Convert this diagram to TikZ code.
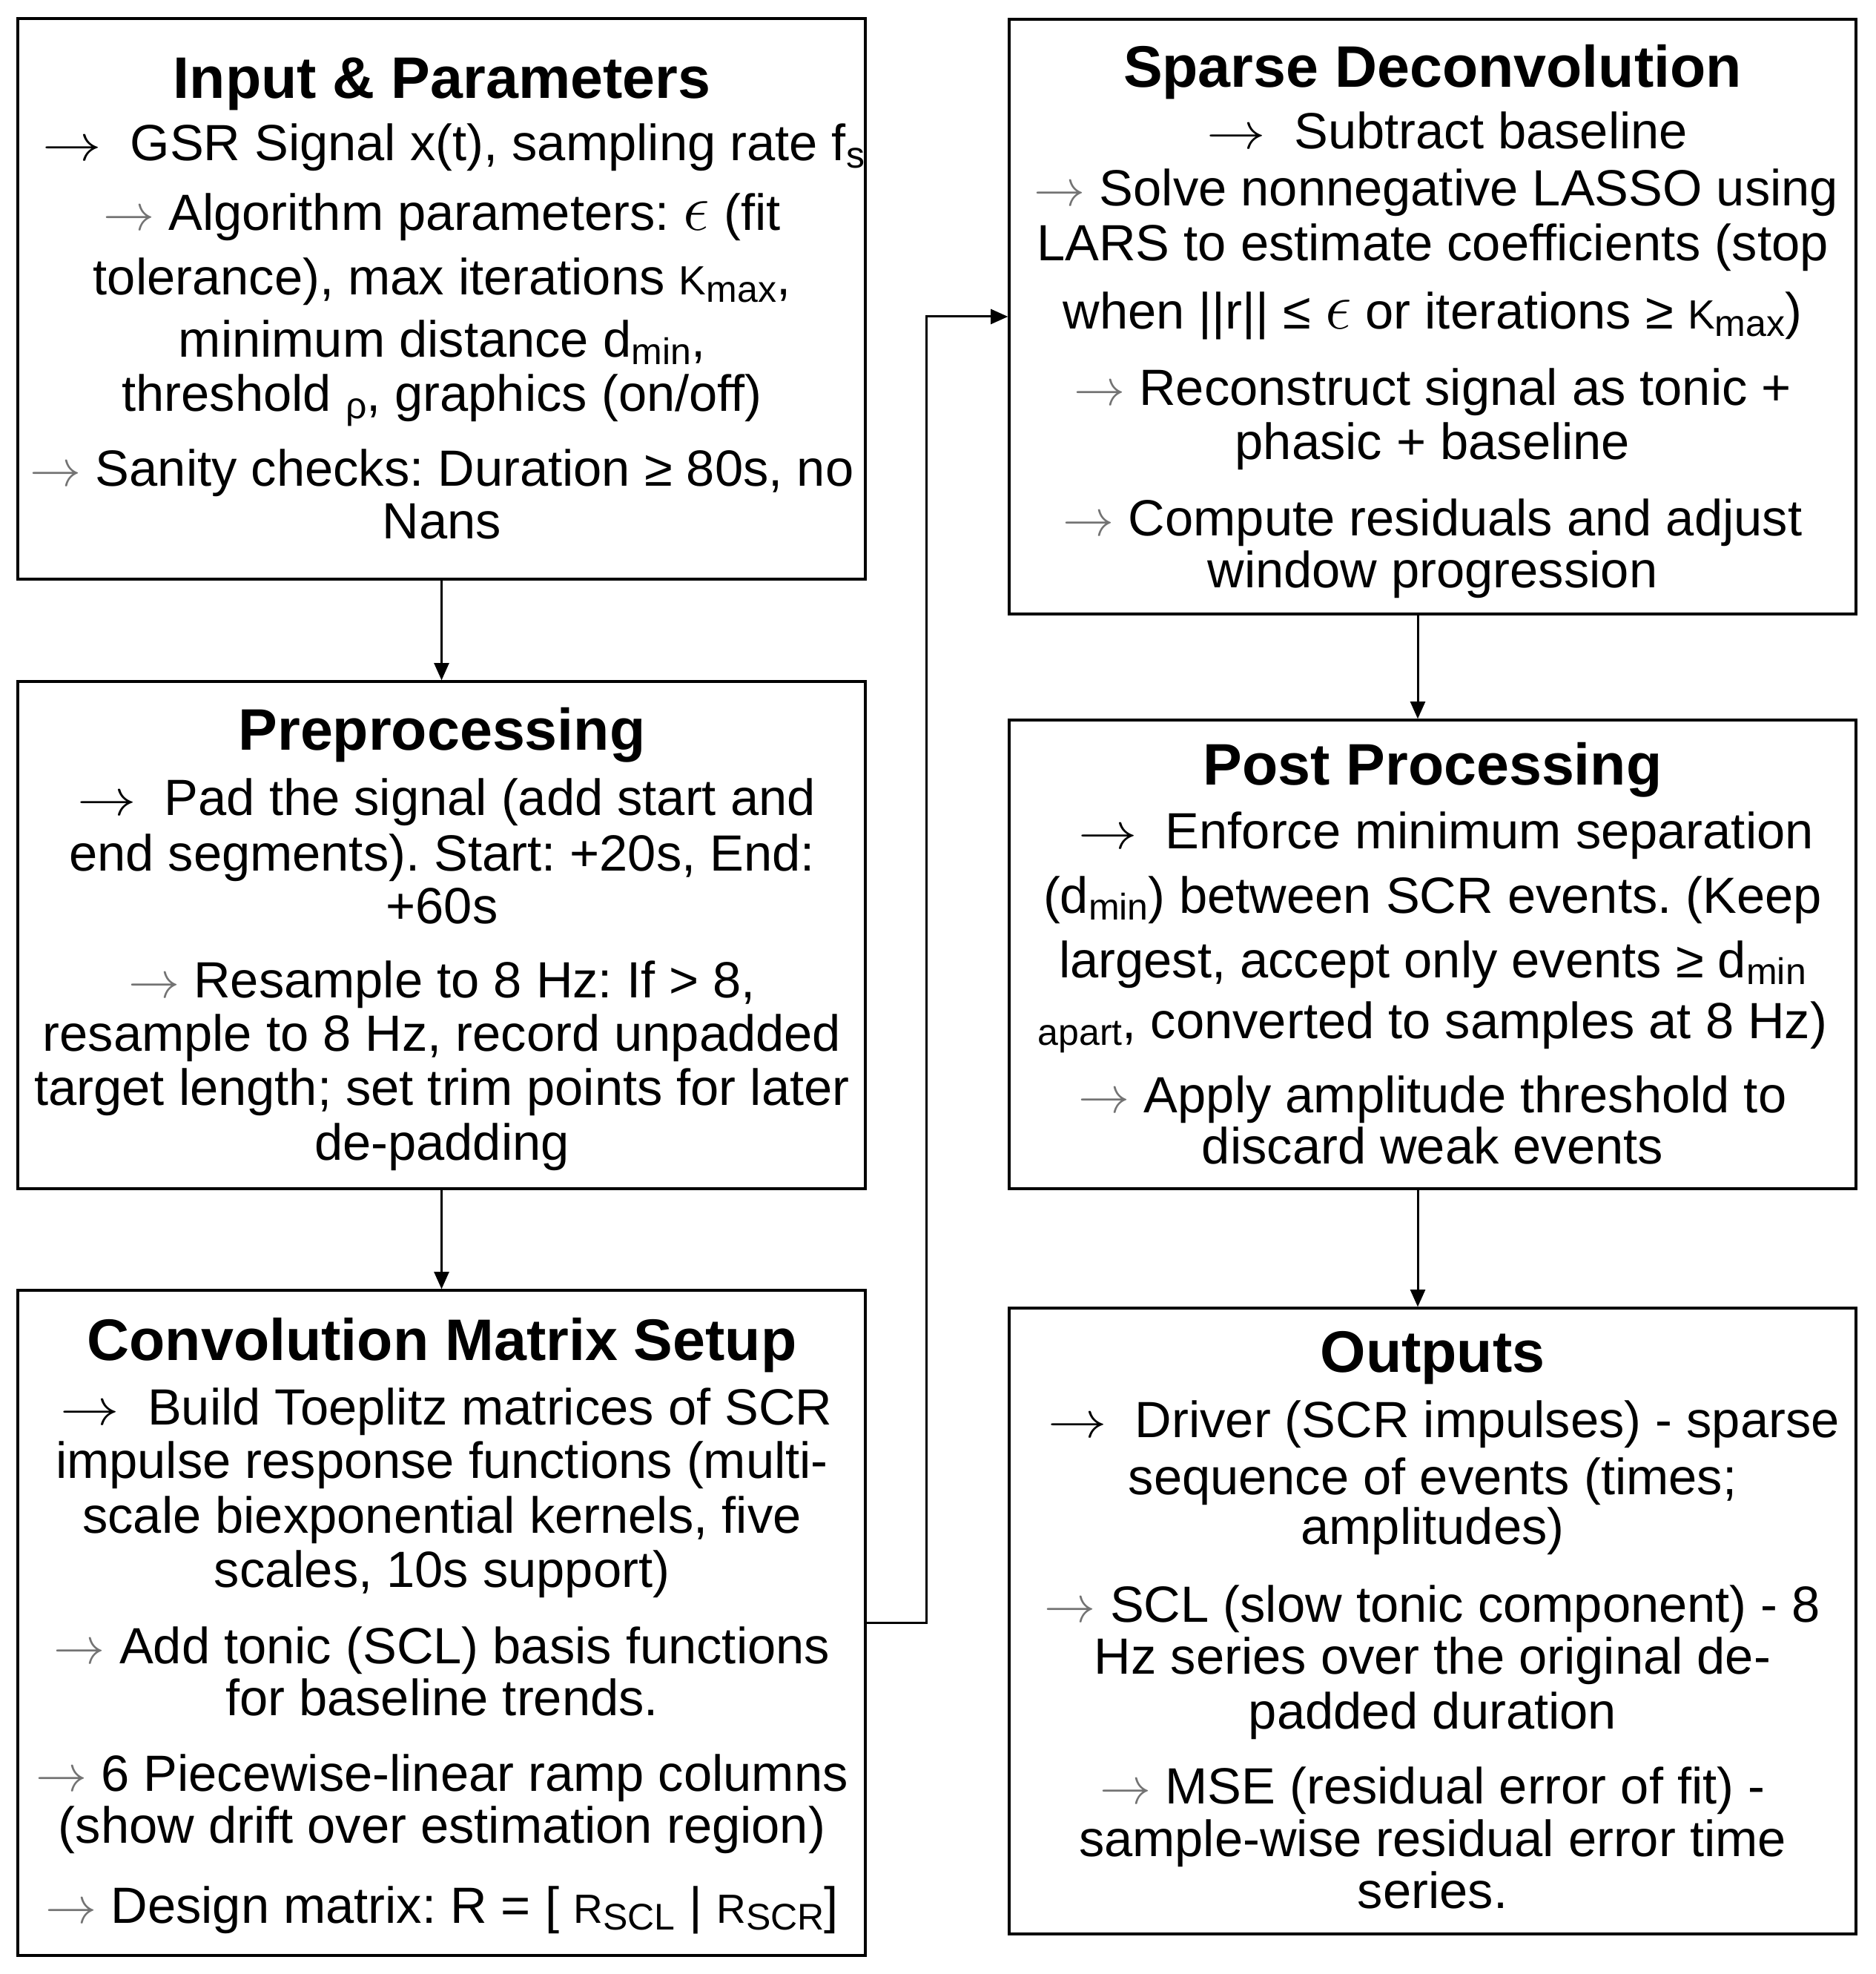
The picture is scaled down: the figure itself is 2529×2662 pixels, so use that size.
\documentclass[tikz,border=0pt]{standalone}
\usepackage{fontspec}
\setmainfont{Liberation Sans}
\usetikzlibrary{arrows.meta,fit}
\frenchspacing
\newcommand\arA{\scalebox{1.15}[1]{$\rightarrow$}}
\newcommand\arB{{\color{black!55}\fontsize{19.5}{19.5}\selectfont$\rightarrow$}}
\newcommand\eps{\scalebox{1.3}{$\epsilon$}}
\newcommand\smf[1]{{\fontsize{16.5}{16.5}\selectfont #1}}
\newcommand\lo[1]{\raisebox{-0.25ex}{\fontsize{15}{15}\selectfont #1}}
\newcommand\txtline[4]{\node[txt] (#1) at (#2,#3) {#4};}
\newcommand\ttlline[4]{\node[ttl] (#1) at (#2,#3) {#4};}
\tikzset{
  txt/.style={anchor=base, inner sep=0pt, font=\fontsize{20.6}{24}\selectfont},
  ttl/.style={anchor=base, inner sep=0pt, font=\fontsize{23.7}{28}\selectfont\bfseries},
  box/.style={draw, line width=1pt, inner sep=0pt},
  arr/.style={line width=0.9pt, -{Triangle[length=7pt,width=6pt]}}
}
\begin{document}
\begin{tikzpicture}[x=0.3pt,y=-0.3pt]
\useasboundingbox (0,0) rectangle (2529,2662);
% boxes
\node[box, fit={(24,25) (1167,781)}] (inp) {};
\node[box, fit={(24,919) (1167,1603)}] (pre) {};
\node[box, fit={(24,1740) (1167,2637)}] (conv) {};
\node[box, fit={(1361,26) (2503,828)}] (sp) {};
\node[box, fit={(1361,971) (2503,1603)}] (post) {};
\node[box, fit={(1361,1764) (2503,2608)}] (outp) {};
% connectors
\coordinate (rx) at (1912,0);
\draw[arr] (inp.south) -- (pre.north);
\draw[arr] (pre.south) -- (conv.north);
\draw[arr] (conv.east) -- ++(81,0) |- (sp.west);
\draw[arr] (rx |- sp.south) -- (rx |- post.north);
\draw[arr] (rx |- post.south) -- (rx |- outp.north);
% Input & Parameters
\ttlline{t1}{596}{133}{Input \& Parameters}
\txtline{a1}{612}{217}{\arA\ \ GSR Signal x(t), sampling rate f\lo{s}}
\txtline{a2}{596}{311}{\arB\ Algorithm parameters: \eps\ (fit}
\txtline{a3}{596}{398}{tolerance), max iterations \smf{K}\lo{max},}
\txtline{a4}{596}{482}{minimum distance d\lo{min},}
\txtline{a5}{596}{555}{threshold \lo{ρ}, graphics (on/off)}
\txtline{a6}{596}{656}{\arB\ Sanity checks: Duration ≥ 80s, no}
\txtline{a7}{596}{727}{Nans}
% Preprocessing
\ttlline{t2}{596}{1011}{Preprocessing}
\txtline{b1}{602}{1099}{\arA\ \ Pad the signal (add start and}
\txtline{b2}{596}{1174}{end segments). Start: +20s, End:}
\txtline{b3}{596}{1245}{+60s}
\txtline{b4}{596}{1345}{\arB\ Resample to 8 Hz: If > 8,}
\txtline{b5}{596}{1417}{resample to 8 Hz, record unpadded}
\txtline{b6}{596}{1490}{target length; set trim points for later}
\txtline{b7}{596}{1564}{de-padding}
% Convolution Matrix Setup
\ttlline{t3}{596}{1834}{Convolution Matrix Setup}
\txtline{c1}{602}{1921}{\arA\ \ Build Toeplitz matrices of SCR}
\txtline{c2}{596}{1993}{impulse response functions (multi-}
\txtline{c3}{596}{2067}{scale biexponential kernels, five}
\txtline{c4}{596}{2140}{scales, 10s support)}
\txtline{c5}{596}{2243}{\arB\ Add tonic (SCL) basis functions}
\txtline{c6}{596}{2313}{for baseline trends.}
\txtline{c7}{596}{2415}{\arB\ 6 Piecewise-linear ramp columns}
\txtline{c8}{596}{2485}{(show drift over estimation region)}
\txtline{c9}{596}{2593}{\arB\ Design matrix: R = [ \smf{R}\lo{SCL} | \smf{R}\lo{SCR}]}
% Sparse Deconvolution
\ttlline{t4}{1932}{118}{Sparse Deconvolution}
\txtline{d1}{1952}{201}{\arA\ \ Subtract baseline}
\txtline{d2}{1937}{278}{\arB\ Solve nonnegative LASSO using}
\txtline{d3}{1932}{352}{LARS to estimate coefficients (stop}
\txtline{d4}{1932}{444}{when ||r|| ≤ \eps\ or iterations ≥ \smf{K}\lo{max})}
\txtline{d5}{1932}{547}{\arB\ Reconstruct signal as tonic +}
\txtline{d6}{1932}{620}{phasic + baseline}
\txtline{d7}{1932}{723}{\arB\ Compute residuals and adjust}
\txtline{d8}{1932}{793}{window progression}
% Post Processing
\ttlline{t5}{1932}{1058}{Post Processing}
\txtline{e1}{1950}{1144}{\arA\ \ Enforce minimum separation}
\txtline{e2}{1932}{1231}{(d\lo{min}) between SCR events. (Keep}
\txtline{e3}{1932}{1318}{largest, accept only events ≥ d\lo{min}}
\txtline{e4}{1932}{1400}{\lo{apart}, converted to samples at 8 Hz)}
\txtline{e5}{1932}{1500}{\arB\ Apply amplitude threshold to}
\txtline{e6}{1932}{1569}{discard weak events}
% Outputs
\ttlline{t6}{1932}{1850}{Outputs}
\txtline{f1}{1947}{1938}{\arA\ \ Driver (SCR impulses) - sparse}
\txtline{f2}{1932}{2015}{sequence of events (times;}
\txtline{f3}{1932}{2082}{amplitudes)}
\txtline{f4}{1932}{2187}{\arB\ SCL (slow tonic component) - 8}
\txtline{f5}{1932}{2257}{Hz series over the original de-}
\txtline{f6}{1932}{2331}{padded duration}
\txtline{f7}{1932}{2432}{\arB\ MSE (residual error of fit) -}
\txtline{f8}{1932}{2503}{sample-wise residual error time}
\txtline{f9}{1932}{2573}{series.}
\end{tikzpicture}
\end{document}
